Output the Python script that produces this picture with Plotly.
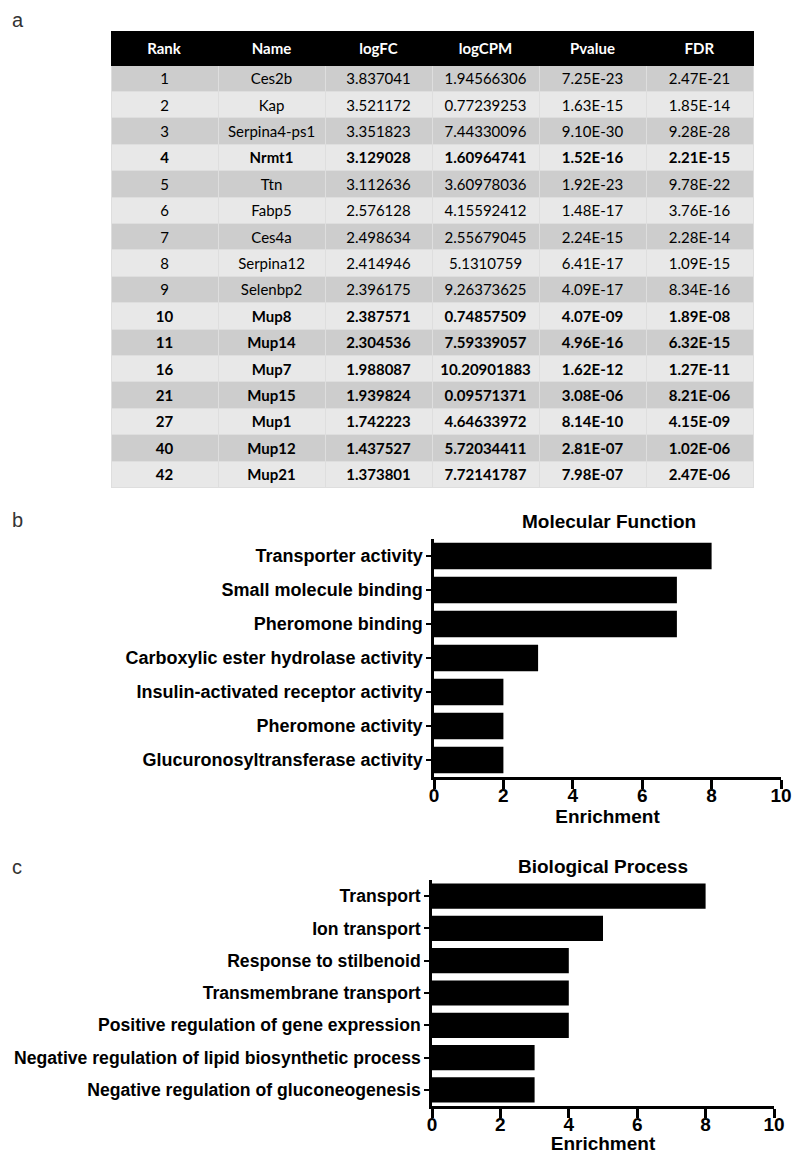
import plotly.graph_objects as go

# ---------------- data ----------------
rank = [1, 2, 3, 4, 5, 6, 7, 8, 9, 10, 11, 16, 21, 27, 40, 42]
name = ["Ces2b", "Kap", "Serpina4-ps1", "Nrmt1", "Ttn", "Fabp5", "Ces4a", "Serpina12",
        "Selenbp2", "Mup8", "Mup14", "Mup7", "Mup15", "Mup1", "Mup12", "Mup21"]
logfc = ["3.837041", "3.521172", "3.351823", "3.129028", "3.112636", "2.576128", "2.498634",
         "2.414946", "2.396175", "2.387571", "2.304536", "1.988087", "1.939824", "1.742223",
         "1.437527", "1.373801"]
logcpm = ["1.94566306", "0.77239253", "7.44330096", "1.60964741", "3.60978036", "4.15592412",
          "2.55679045", "5.1310759", "9.26373625", "0.74857509", "7.59339057", "10.20901883",
          "0.09571371", "4.64633972", "5.72034411", "7.72141787"]
pvalue = ["7.25E-23", "1.63E-15", "9.10E-30", "1.52E-16", "1.92E-23", "1.48E-17", "2.24E-15",
          "6.41E-17", "4.09E-17", "4.07E-09", "4.96E-16", "1.62E-12", "3.08E-06", "8.14E-10",
          "2.81E-07", "7.98E-07"]
fdr = ["2.47E-21", "1.85E-14", "9.28E-28", "2.21E-15", "9.78E-22", "3.76E-16", "2.28E-14",
       "1.09E-15", "8.34E-16", "1.89E-08", "6.32E-15", "1.27E-11", "8.21E-06", "4.15E-09",
       "1.02E-06", "2.47E-06"]
bold_ranks = [4, 10, 11, 16, 21, 27, 40, 42]
header = ["Rank", "Name", "logFC", "logCPM", "Pvalue", "FDR"]

mf_terms = ["Transporter activity", "Small molecule binding", "Pheromone binding",
            "Carboxylic ester hydrolase activity", "Insulin-activated receptor activity",
            "Pheromone activity", "Glucuronosyltransferase activity"]
mf_values = [8, 7, 7, 3, 2, 2, 2]

bp_terms = ["Transport", "Ion transport", "Response to stilbenoid", "Transmembrane transport",
            "Positive regulation of gene expression",
            "Negative regulation of lipid biosynthetic process",
            "Negative regulation of gluconeogenesis"]
bp_values = [8, 5, 4, 4, 4, 3, 3]

x_ticks = [0, 2, 4, 6, 8, 10]

# ---------------- figure ----------------
# the page body adds an 8px margin; the figure is sized/offset to compensate
OFF = 8
W, H = 800 - OFF, 1154 - OFF
def py(px):
    return 1 - (px - OFF) / H
def pxx(px):
    return (px - OFF) / W

fig = go.Figure()

cols = [rank, name, logfc, logcpm, pvalue, fdr]
is_bold = [r in bold_ranks for r in rank]
CLEAR = "rgba(0,0,0,0)"
normal_colors = [CLEAR if b else "black" for b in is_bold]
bold_colors = ["black" if b else CLEAR for b in is_bold]
row_colors = ["#cdcdcd" if i % 2 == 0 else "#e8e8e8" for i in range(len(rank))]

tbl_domain = dict(x=[pxx(111), pxx(753)], y=[py(490), py(31)])
CELL_H = 26.4

# base table: fills, header, normal-weight rows
fig.add_trace(go.Table(
    domain=tbl_domain,
    columnwidth=[1, 1, 1, 1, 1, 1],
    header=dict(values=[f"<b>{h}</b>" for h in header],
                fill_color="black", line=dict(color="black", width=1),
                font=dict(family="Lato", size=15, color="white"),
                align="center", height=26),
    cells=dict(values=cols,
               fill_color=[row_colors] * 6,
               line=dict(color="#dedede", width=1),
               font=dict(family="Lato", size=15, color=[normal_colors] * 6),
               align="center", height=CELL_H),
))
# overlay table: bold rows (transparent background)
fig.add_trace(go.Table(
    domain=tbl_domain,
    columnwidth=[1, 1, 1, 1, 1, 1],
    header=dict(values=[f"<b>{h}</b>" for h in header], fill_color=CLEAR,
                line=dict(color=CLEAR, width=0),
                font=dict(family="Lato", size=15, color=CLEAR),
                align="center", height=26),
    cells=dict(values=cols,
               fill_color=CLEAR,
               line=dict(color=CLEAR, width=0),
               font=dict(family="Lato", size=15, color=[bold_colors] * 6, weight="bold"),
               align="center", height=CELL_H),
))

fig.add_trace(go.Bar(x=mf_values, y=mf_terms, orientation="h", marker_color="black",
                     marker_line_width=0, width=0.78, xaxis="x", yaxis="y", showlegend=False))
fig.add_trace(go.Bar(x=bp_values, y=bp_terms, orientation="h", marker_color="black",
                     marker_line_width=0, width=0.78, xaxis="x2", yaxis="y2", showlegend=False))

def lab_font(size):
    return dict(family="Liberation Sans, Arial", size=size, color="black", weight="bold")
num_font = dict(family="Liberation Sans, Arial", size=19, color="black", weight="bold")

def xax(dom, anchor):
    return dict(domain=dom, anchor=anchor, range=[0, 10], tickvals=x_ticks,
                showline=True, linewidth=2.5, linecolor="black", ticks="outside",
                ticklen=9, tickwidth=2.5, tickcolor="black", showgrid=False, zeroline=False,
                tickfont=num_font, fixedrange=True, automargin=False,
                ticklabelstandoff=-10, ticklabeloverflow="allow",
                title=dict(text="Enrichment", font=num_font, standoff=0))

def yax(dom, anchor, cats, size):
    return dict(domain=dom, anchor=anchor, type="category", categoryorder="array",
                categoryarray=cats, range=[len(cats) - 0.5, -0.5],
                showline=True, linewidth=2.5, linecolor="black", ticks="outside",
                ticklen=5, tickwidth=2, tickcolor="black", showgrid=False, zeroline=False,
                tickfont=lab_font(size), ticklabelstandoff=0, automargin=False,
                ticklabeloverflow="allow")

fig.update_layout(
    width=W, height=H, margin=dict(l=0, r=0, t=0, b=0, autoexpand=False),
    paper_bgcolor="white", plot_bgcolor="white",
    xaxis=xax([pxx(434), pxx(781)], "y"),
    yaxis=yax([py(777), py(539)], "x", mf_terms, 18),
    xaxis2=xax([pxx(432), pxx(774)], "y2"),
    yaxis2=yax([py(1106), py(880)], "x2", bp_terms, 17.6),
    bargap=0.2,
)

title_font = dict(family="Liberation Sans, Arial", size=19, color="black", weight="bold")
fig.add_annotation(text="Molecular Function", x=pxx(609), y=py(521), xref="paper", yref="paper",
                   showarrow=False, font=title_font, xanchor="center", yanchor="middle")
fig.add_annotation(text="Biological Process", x=pxx(603), y=py(866), xref="paper", yref="paper",
                   showarrow=False, font=title_font, xanchor="center", yanchor="middle")

panel_font = dict(family="Liberation Sans, Arial", size=20, color="#333333")
for lab, yy in [("a", 20), ("b", 520), ("c", 867)]:
    fig.add_annotation(text=lab, x=pxx(10), y=py(yy), xref="paper", yref="paper",
                       showarrow=False, font=panel_font, xanchor="left", yanchor="middle")

fig.write_html("out.html")
